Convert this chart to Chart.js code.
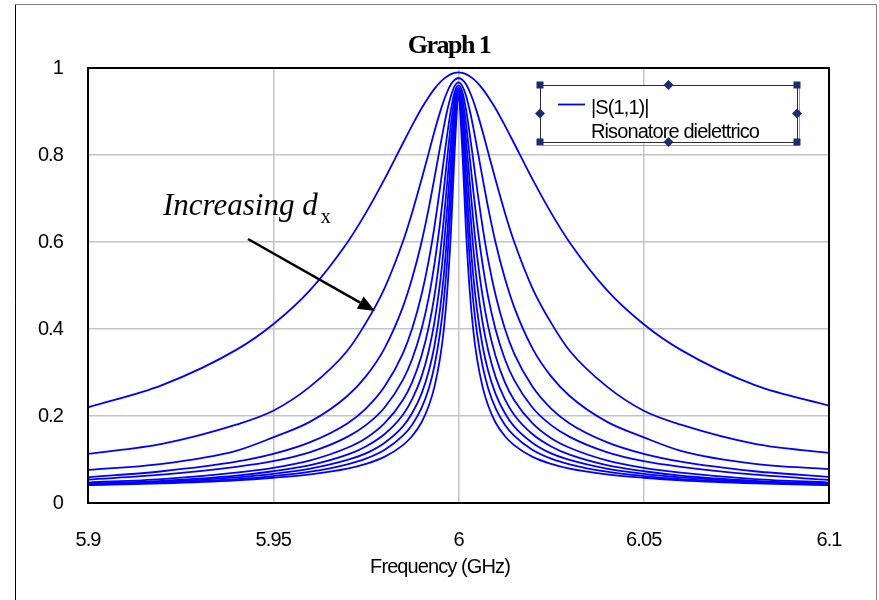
<!DOCTYPE html>
<html><head><meta charset="utf-8">
<script src="https://cdn.jsdelivr.net/npm/chart.js@4.4.1/dist/chart.umd.min.js"></script>
<style>html,body{margin:0;padding:0;background:#fff;}canvas{display:block;}</style>
</head><body>
<canvas id="c" width="879" height="600"></canvas>
<script>
// Frequency samples (GHz)
const frequencies = [5.9, 5.92, 5.94, 5.95, 5.96, 5.97, 5.975, 5.98, 5.985, 5.9875, 5.99, 5.992, 5.9935, 5.995, 5.996, 5.997, 5.998, 5.999,
  6.0, 6.001, 6.002, 6.003, 6.004, 6.005, 6.0065, 6.008, 6.01, 6.0125, 6.015, 6.02, 6.025, 6.03, 6.04, 6.05, 6.06, 6.08, 6.1];

// |S(1,1)| curves, from widest (smallest dx) to narrowest (largest dx)
const s11_1 = [.220,.271,.352,.411,.490,.599,.667,.744,.827,.868,.907,.934,.952,.967,.975,.981,.986,.989,.990,.989,.986,.981,.975,.967,.952,.934,.907,.868,.827,.744,.667,.599,.490,.411,.352,.271,.224];
const s11_2 = [.113,.136,.180,.212,.268,.350,.414,.493,.601,.668,.743,.806,.854,.898,.924,.946,.963,.973,.977,.973,.963,.946,.924,.898,.854,.806,.743,.668,.601,.493,.414,.350,.268,.212,.180,.136,.115];
const s11_3 = [.076,.090,.120,.151,.187,.246,.291,.355,.451,.517,.599,.679,.747,.817,.863,.904,.937,.959,.967,.959,.937,.904,.863,.817,.747,.679,.599,.517,.451,.355,.291,.246,.187,.151,.120,.090,.078];
const s11_4 = [.059,.073,.095,.113,.140,.183,.217,.267,.344,.401,.478,.559,.635,.723,.787,.850,.906,.946,.960,.946,.906,.850,.787,.723,.635,.559,.478,.401,.344,.267,.217,.183,.140,.113,.095,.073,.060];
const s11_5 = [.054,.065,.083,.096,.117,.152,.179,.219,.283,.331,.399,.474,.549,.643,.717,.797,.874,.933,.955,.933,.874,.797,.717,.643,.549,.474,.399,.331,.283,.219,.179,.152,.117,.096,.083,.065,.053];
const s11_6 = [.047,.055,.070,.081,.098,.127,.149,.183,.237,.278,.338,.406,.476,.570,.649,.741,.837,.917,.950,.917,.837,.741,.649,.570,.476,.406,.338,.278,.237,.183,.149,.127,.098,.081,.070,.055,.047];
const s11_7 = [.044,.051,.063,.073,.087,.111,.130,.158,.203,.239,.290,.351,.415,.505,.585,.683,.797,.900,.945,.900,.797,.683,.585,.505,.415,.351,.290,.239,.203,.158,.130,.111,.087,.073,.063,.051,.044];
const s11_8 = [.043,.049,.059,.067,.079,.099,.114,.138,.176,.207,.251,.304,.361,.444,.521,.622,.749,.879,.940,.879,.749,.622,.521,.444,.361,.304,.251,.207,.176,.138,.114,.099,.079,.067,.059,.049,.043];
const s11_9 = [.042,.047,.055,.062,.072,.089,.102,.122,.155,.180,.218,.264,.315,.390,.462,.562,.698,.853,.935,.853,.698,.562,.462,.390,.315,.264,.218,.180,.155,.122,.102,.089,.072,.062,.055,.047,.042];
const s11_10 = [.041,.045,.052,.058,.066,.079,.090,.106,.133,.154,.185,.224,.267,.332,.396,.491,.630,.816,.930,.816,.630,.491,.396,.332,.267,.224,.185,.154,.133,.106,.090,.079,.066,.058,.052,.045,.041];

const seriesList = [s11_1, s11_2, s11_3, s11_4, s11_5, s11_6, s11_7, s11_8, s11_9, s11_10];

const xTickValues = [5.9, 5.95, 6, 6.05, 6.1];
const xTickLabels = ['5.9', '5.95', '6', '6.05', '6.1'];
const yTickValues = [0, 0.2, 0.4, 0.6, 0.8, 1];
const yTickLabels = ['0', '0.2', '0.4', '0.6', '0.8', '1'];

const chartTitle = 'Graph 1';
const xAxisTitle = 'Frequency (GHz)';
const legendLines = ['|S(1,1)|', 'Risonatore dielettrico'];
const annotationText = 'Increasing ';
const annotationVar = 'd';
const annotationSub = 'x';

const SANS = '"Liberation Sans", Arial, sans-serif';
const SERIF = '"Liberation Serif", "Times New Roman", serif';
const TIGHT = '-0.9px';

const datasets = seriesList.map((s, k) => ({
  label: legendLines.join(' '),
  data: s.map((v, i) => ({x: frequencies[i], y: v})),
  borderColor: '#0000ff',
  borderWidth: 1.8,
  pointRadius: 0,
  fill: false,
  cubicInterpolationMode: 'monotone'
}));

function setSpacing(ctx, v) { try { ctx.letterSpacing = v; } catch (e) {} }

const decor = {
  id: 'decor',
  beforeDraw(chart) {
    const ctx = chart.ctx;
    ctx.save();
    ctx.fillStyle = '#ffffff';
    ctx.fillRect(0, 0, chart.width, chart.height);
    ctx.restore();
    setSpacing(ctx, TIGHT);
  },
  afterDatasetsDraw(chart) {
    const ctx = chart.ctx;
    const a = chart.chartArea;
    ctx.save();
    ctx.strokeStyle = '#000';
    ctx.lineWidth = 2;
    ctx.strokeRect(a.left, a.top, a.right - a.left, a.bottom - a.top);
    ctx.restore();
  },
  afterDraw(chart) {
    const ctx = chart.ctx;
    ctx.save();
    setSpacing(ctx, '0px');
    // outer chart frame
    ctx.lineWidth = 1;
    ctx.strokeStyle = '#000';
    ctx.beginPath(); ctx.moveTo(15.5, 4.5); ctx.lineTo(15.5, 600); ctx.stroke();
    ctx.strokeStyle = '#808080';
    ctx.beginPath(); ctx.moveTo(15.5, 4.5); ctx.lineTo(876.5, 4.5); ctx.lineTo(876.5, 600); ctx.stroke();

    // title
    ctx.fillStyle = '#000';
    ctx.font = 'bold 26px ' + SERIF;
    setSpacing(ctx, '-1.5px');
    ctx.textAlign = 'center';
    ctx.textBaseline = 'alphabetic';
    ctx.fillText(chartTitle, 449, 53);

    // x axis title
    setSpacing(ctx, TIGHT);
    ctx.font = '20px ' + SANS;
    ctx.fillText(xAxisTitle, 440, 573);
    setSpacing(ctx, '0px');

    // annotation
    ctx.textAlign = 'left';
    ctx.font = 'italic 31px ' + SERIF;
    ctx.fillText(annotationText, 163, 215);
    let w = ctx.measureText(annotationText).width;
    ctx.fillText(annotationVar, 163 + w, 215);
    let w2 = ctx.measureText(annotationVar).width;
    ctx.font = '20px ' + SERIF;
    ctx.fillText(annotationSub, 163 + w + w2 + 3, 223);

    // arrow
    const x0 = 248, y0 = 239, x1 = 375, y1 = 311;
    const ang = Math.atan2(y1 - y0, x1 - x0);
    const hl = 17, hw = 7;
    const bx = x1 - hl * Math.cos(ang), by = y1 - hl * Math.sin(ang);
    ctx.strokeStyle = '#000';
    ctx.lineWidth = 2.5;
    ctx.beginPath(); ctx.moveTo(x0, y0); ctx.lineTo(bx, by); ctx.stroke();
    ctx.fillStyle = '#000';
    ctx.beginPath();
    ctx.moveTo(x1, y1);
    ctx.lineTo(bx + hw * Math.sin(ang), by - hw * Math.cos(ang));
    ctx.lineTo(bx - hw * Math.sin(ang), by + hw * Math.cos(ang));
    ctx.closePath(); ctx.fill();

    // legend box
    const L = 540, T = 85, R = 797, B = 142;
    ctx.fillStyle = '#fff';
    ctx.fillRect(L, T, R - L, B - T);
    ctx.strokeStyle = '#a0a0a0';
    ctx.lineWidth = 1;
    ctx.beginPath(); ctx.moveTo(L + 3, B + 3.5); ctx.lineTo(R + 2.5, B + 3.5); ctx.lineTo(R + 2.5, T + 3); ctx.stroke();
    ctx.strokeStyle = '#2a2a3a';
    ctx.strokeRect(L + 0.5, T + 0.5, R - L, B - T);
    // legend entry
    ctx.strokeStyle = '#0000ff';
    ctx.lineWidth = 1.8;
    ctx.beginPath(); ctx.moveTo(558, 104.5); ctx.lineTo(585, 104.5); ctx.stroke();
    ctx.fillStyle = '#000';
    ctx.font = '20px ' + SANS;
    setSpacing(ctx, TIGHT);
    ctx.textAlign = 'left';
    ctx.fillText(legendLines[0], 591, 114);
    ctx.fillText(legendLines[1], 591, 138);
    setSpacing(ctx, '0px');
    // selection handles
    ctx.fillStyle = '#1c2d6b';
    const mx = (L + R) / 2, my = (T + B) / 2;
    [[L, T], [R, T], [L, B], [R, B]].forEach(([x, y]) => ctx.fillRect(x - 3.5, y - 3.5, 7, 7));
    [[mx, T], [mx, B], [L, my], [R, my]].forEach(([x, y]) => {
      ctx.beginPath(); ctx.moveTo(x, y - 5); ctx.lineTo(x + 5, y); ctx.lineTo(x, y + 5); ctx.lineTo(x - 5, y); ctx.closePath(); ctx.fill();
    });
    ctx.restore();
  }
};

new Chart(document.getElementById('c'), {
  type: 'line',
  data: {datasets},
  options: {
    responsive: false,
    animation: false,
    devicePixelRatio: 1,
    layout: {padding: {left: 0, top: 68, right: 50, bottom: 0}},
    plugins: {legend: {display: false}, title: {display: false}, tooltip: {enabled: false}},
    scales: {
      x: {
        type: 'linear', min: 5.9, max: 6.1,
        border: {display: false},
        grid: {color: '#c4c4c4', lineWidth: 1.5, drawTicks: false},
        afterBuildTicks(s) { s.ticks = xTickValues.map(v => ({value: v})); },
        afterFit(s) { s.height = 97; s.paddingLeft = 0; s.paddingRight = 0; },
        ticks: {
          autoSkip: false, maxRotation: 0, padding: 25, color: '#000',
          font: {family: SANS, size: 20},
          callback: (v, i) => xTickLabels[i]
        }
      },
      y: {
        min: 0, max: 1,
        border: {display: false},
        grid: {color: '#c4c4c4', lineWidth: 1.5, drawTicks: false},
        afterBuildTicks(s) { s.ticks = yTickValues.map(v => ({value: v})); },
        afterFit(s) { s.width = 88; s.paddingTop = 0; s.paddingBottom = 0; },
        ticks: {
          padding: 25, color: '#000',
          font: {family: SANS, size: 20},
          callback: (v, i) => yTickLabels[i]
        }
      }
    }
  },
  plugins: [decor]
});
</script>
</body></html>
